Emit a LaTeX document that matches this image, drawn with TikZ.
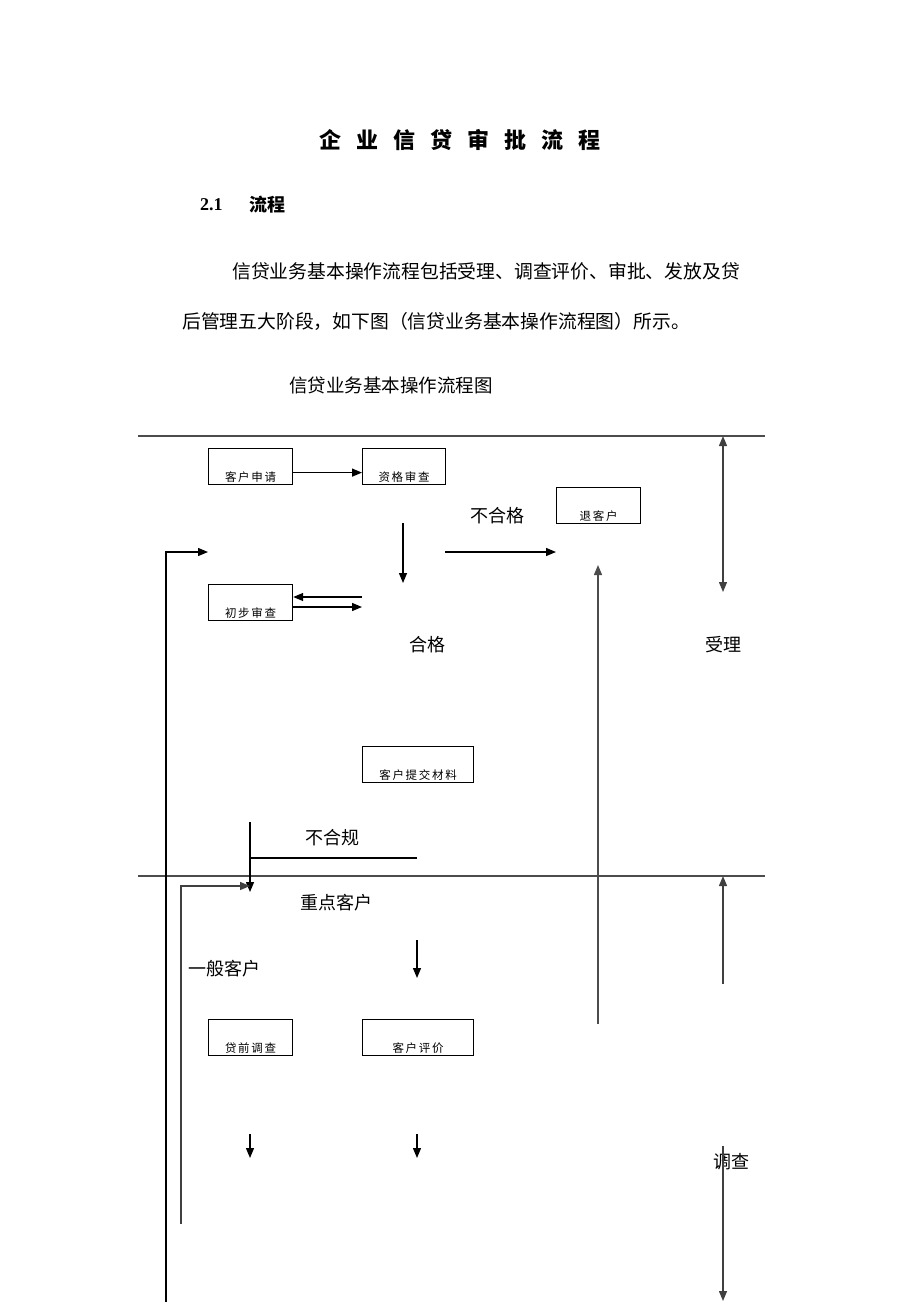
\documentclass[tikz,border=0pt]{standalone}
\usepackage{fontspec}
\setmainfont{Liberation Serif}
\newfontfamily\cjk{Noto Sans CJK SC}
\newfontfamily\cjkbox[LetterSpace=15]{Noto Sans CJK SC}
\usetikzlibrary{arrows.meta, positioning}
\tikzset{
  stepbox/.style={draw, line width=1.2pt, minimum width=84pt, minimum height=36pt,
    inner sep=0pt, text height=33pt, text depth=3pt, anchor=north west,
    font=\cjkbox\fontsize{11.5}{11.5}\selectfont},
  lbl/.style={inner sep=0pt, font=\cjk\fontsize{18}{18}\selectfont},
  txt/.style={inner sep=0pt, anchor=west, font=\cjk\fontsize{18.8}{18.8}\selectfont},
  flow/.style={-{Triangle[length=10pt,width=8pt]}, line width=1.3pt},
  flowboth/.style={{Triangle[length=10pt,width=8pt]}-{Triangle[length=10pt,width=8pt]}, line width=1.3pt, draw=black!75},
  rule/.style={line width=1.3pt, draw=black!70}
}

\begin{document}
\begin{tikzpicture}[x=1pt, y=-1pt]
  \useasboundingbox (0,0) rectangle (920,1302);

  % heading and text
  \node (title) [inner sep=0pt, font=\cjk\bfseries\fontsize{22}{22}\selectfont] at (460,140)
    {企\hspace{15pt}业\hspace{15pt}信\hspace{15pt}贷\hspace{15pt}审\hspace{15pt}批\hspace{15pt}流\hspace{15pt}程};
  \node (secno) [inner sep=0pt, anchor=west, font=\bfseries\fontsize{18}{18}\selectfont] at (200,205) {2.1};
  \node (sec) [inner sep=0pt, anchor=west, font=\cjk\bfseries\fontsize{18}{18}\selectfont] at (249,205) {流程};
  \node (para1) [txt] at (232,271) {信贷业务基本操作流程包括受理、调查评价、审批、发放及贷};
  \node (para2) [txt] at (182,321) {后管理五大阶段，如下图（信贷业务基本操作流程图）所示。};
  \node (caption) [txt, font=\cjk\fontsize{18.5}{18.5}\selectfont] at (289,385) {信贷业务基本操作流程图};

  % stage rules
  \draw [rule] (138,436) -- (765,436);
  \draw [rule] (138,876) -- (765,876);

  % boxes
  \node (apply)  [stepbox] at (208,448) {客户申请};
  \node (check)  [stepbox, minimum width=83pt] at (362,448) {资格审查};
  \node (reject) [stepbox] at (556,487) {退客户};
  \node (prelim) [stepbox] at (208,584) {初步审查};
  \node (submit) [stepbox, minimum width=111pt] at (362,746) {客户提交材料};
  \node (survey) [stepbox] at (208,1019) {贷前调查};
  \node (rating) [stepbox, minimum width=111pt] at (362,1019) {客户评价};

  % labels
  \node (fail)   [lbl] at (497,516) {不合格};
  \node (pass)   [lbl] at (427,645) {合格};
  \node (accept) [lbl] at (723,645) {受理};
  \node (noncomp)[lbl] at (332,838) {不合规};
  \node (keycl)  [lbl] at (336,903) {重点客户};
  \node (gencl)  [lbl] at (224,969) {一般客户};
  \node (invest) [lbl] at (731,1162) {调查};

  % free ends
  \coordinate (d1a) at (403,523);  \coordinate (d1b) at (403,583);
  \coordinate (r1a) at (445,552);  \coordinate (r1b) at (556,552);
  \coordinate (l1a) at (166,1302); \coordinate (l1b) at (208,552);
  \coordinate (p1a) at (362,597);  \coordinate (p1b) at (362,607);
  \coordinate (u1a) at (598,1024); \coordinate (u1b) at (598,565);
  \coordinate (s1a) at (723,436);  \coordinate (s1b) at (723,592);
  \coordinate (n1a) at (250,822);  \coordinate (n1b) at (250,892);
  \coordinate (n1c) at (250,858);  \coordinate (n1d) at (417,858);
  \coordinate (l2a) at (181,1224); \coordinate (l2b) at (250,886);
  \coordinate (d2a) at (417,940);  \coordinate (d2b) at (417,978);
  \coordinate (d3a) at (250,1134); \coordinate (d3b) at (250,1158);
  \coordinate (d4a) at (417,1134); \coordinate (d4b) at (417,1158);
  \coordinate (s2a) at (723,984);  \coordinate (s2b) at (723,876);
  \coordinate (s3a) at (723,1146); \coordinate (s3b) at (723,1301);

  % connectors
  \draw [flow] ([yshift=-6pt]apply.east) -- ([yshift=-6pt]check.west);
  \draw [flow] (d1a) -- (d1b);
  \draw [flow] (r1a) -- (r1b);
  \draw [flow] (l1a) |- (l1b);
  \draw [flow] (p1a) -- (p1a -| prelim.east);
  \draw [flow] (p1b -| prelim.east) -- (p1b);
  \draw [flow, draw=black!70] (u1a) -- (u1b);
  \draw [flowboth] (s1a) -- (s1b);
  \draw [flow] (n1a) -- (n1b);
  \draw [line width=1.3pt] (n1c) -- (n1d);
  \draw [flow, draw=black!75] (l2a) |- (l2b);
  \draw [flow] (d2a) -- (d2b);
  \draw [flow] (d3a) -- (d3b);
  \draw [flow] (d4a) -- (d4b);
  \draw [flow, draw=black!75] (s2a) -- (s2b);
  \draw [flow, draw=black!75] (s3a) -- (s3b);
\end{tikzpicture}
\end{document}
